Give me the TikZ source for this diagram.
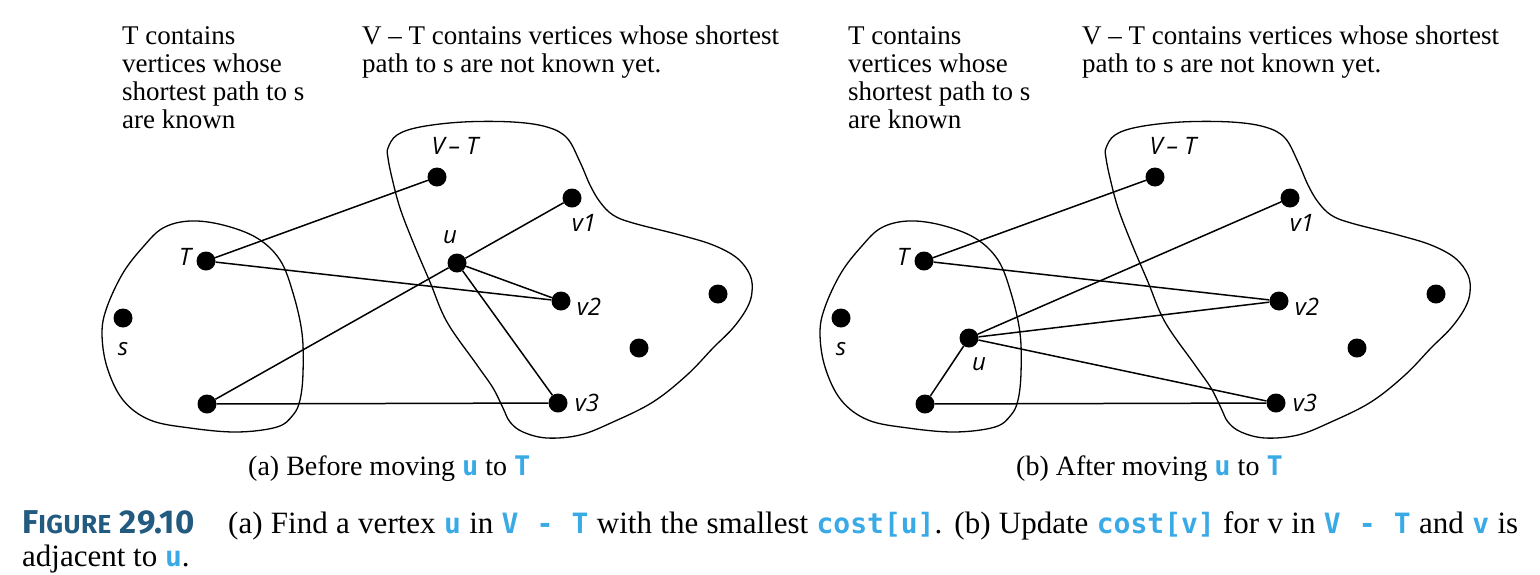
\documentclass[tikz,border=0pt]{standalone}
\usepackage{fontspec}
\setmainfont{Liberation Serif}
\newfontfamily\labfont{Open Sans}
\newfontfamily\codefont{DejaVu Sans Mono}
\newfontfamily\figfont{Fira Sans}
\definecolor{codeblue}{HTML}{3AAAE6}
\definecolor{figblue}{HTML}{235A80}
\newcommand{\cdc}[1]{{\codefont\bfseries\fontsize{28}{28}\selectfont\color{codeblue}#1}}
\newcommand{\cds}[1]{{\codefont\bfseries\fontsize{27}{27}\selectfont\color{codeblue}#1}}
\newcommand{\blobT}{plot[smooth cycle, tension=0.6] coordinates {
 (190,221) (223,225) (257,238) (280,260) (293,293) (302,333) (303,373) (300,400)
 (293,415) (277,427) (237,432) (190,428) (150,420) (123,400) (107,367) (102,333)
 (107,307) (123,273) (143,247) (163,228)}}
\newcommand{\blobV}{plot[smooth cycle, tension=0.6] coordinates {
 (388,148) (397,135) (420,127) (463,122) (513,122) (547,127) (567,138) (580,162)
 (590,185) (600,202) (613,215) (633,223) (680,235) (713,245) (737,258) (750,275)
 (752,292) (747,308) (733,328) (713,348) (687,375) (653,402) (613,422) (580,435)
 (547,438) (523,432) (510,422) (503,408) (493,388) (477,365) (447,322) (430,282)
 (413,242) (400,208) (392,178) (388,158)}}
\begin{document}
\begin{tikzpicture}[x=1pt,y=-1pt,
  txt/.style={font=\rmfamily\upshape\mdseries\fontsize{27}{28}\selectfont, anchor=base west, inner sep=0},
  subtxt/.style={font=\rmfamily\upshape\mdseries\fontsize{28}{28}\selectfont, anchor=base west, inner sep=0},
  captxt/.style={font=\rmfamily\upshape\mdseries\fontsize{31}{32}\selectfont, anchor=base west, inner sep=0},
  lbl/.style={font=\labfont\itshape\fontsize{24}{24}\selectfont, inner sep=0},
  dot/.style={circle, fill=black, minimum size=19pt, inner sep=0},
  edge/.style={line width=1.5pt},
  blob/.style={line width=1.3pt}]
\useasboundingbox (0,0) rectangle (1540,574);

% ---------- panel (a) ----------
\draw[blob] \blobT;
\draw[blob] \blobV;

\node[dot] (aT)  at (206,261) {};
\node[dot] (as)  at (123,318) {};
\node[dot] (ab)  at (207,404) {};
\node[dot] (avt) at (437,177) {};
\node[dot] (av1) at (572,198) {};
\node[dot] (au)  at (457,263) {};
\node[dot] (av2) at (561,301) {};
\node[dot] (ar1) at (718,294) {};
\node[dot] (ar2) at (639,348) {};
\node[dot] (av3) at (558,403) {};

\node[lbl] (laT)  at (185,257) {T};
\node[lbl] (las)  at (123,349) {s};
\node[lbl] (lavt) at (455,146) {V\,– T};
\node[lbl] (lau)  at (450,237) {u};
\node[lbl] (lav1) at (584,223) {v1};
\node[lbl] (lav2) at (589,307) {v2};
\node[lbl] (lav3) at (587,403) {v3};

\draw[edge] (aT) -- (avt);
\draw[edge] (aT) -- (av2);
\draw[edge] (au) -- (av1);
\draw[edge] (au) -- (av2);
\draw[edge] (au) -- (av3);
\draw[edge] (ab) -- (au);
\draw[edge] (ab) -- (av3);

\node[txt] (ta1) at (122,44)  {T contains};
\node[txt] (ta2) at (122,72)  {vertices whose};
\node[txt] (ta3) at (122,100) {shortest path to s};
\node[txt] (ta4) at (122,128) {are known};
\node[txt] (tb1) at (362,44)  {V – T contains vertices whose shortest};
\node[txt] (tb2) at (362,72)  {path to s are not known yet.};
\node[subtxt] (suba) at (248,475) {(a) Before moving \cds{u} to \cds{T}};

% ---------- panel (b) ----------
\begin{scope}[xshift=718pt]
\draw[blob] \blobT;
\draw[blob] \blobV;
\end{scope}

\node[dot] (bT)  at (924,261) {};
\node[dot] (bs)  at (841,318) {};
\node[dot] (bb)  at (925,404) {};
\node[dot] (bvt) at (1155,177) {};
\node[dot] (bv1) at (1290,198) {};
\node[dot] (bu)  at (969,338) {};
\node[dot] (bv2) at (1279,301) {};
\node[dot] (br1) at (1436,294) {};
\node[dot] (br2) at (1357,348) {};
\node[dot] (bv3) at (1276,403) {};

\node[lbl] (lbT)  at (903,257) {T};
\node[lbl] (lbs)  at (841,349) {s};
\node[lbl] (lbvt) at (1173,146) {V\,– T};
\node[lbl] (lbu)  at (979,364) {u};
\node[lbl] (lbv1) at (1302,223) {v1};
\node[lbl] (lbv2) at (1307,307) {v2};
\node[lbl] (lbv3) at (1305,403) {v3};

\draw[edge] (bT) -- (bvt);
\draw[edge] (bT) -- (bv2);
\draw[edge] (bu) -- (bv1);
\draw[edge] (bu) -- (bv2);
\draw[edge] (bu) -- (bv3);
\draw[edge] (bu) -- (bb);
\draw[edge] (bb) -- (bv3);

\node[txt] (tc1) at (848,44)  {T contains};
\node[txt] (tc2) at (848,72)  {vertices whose};
\node[txt] (tc3) at (848,100) {shortest path to s};
\node[txt] (tc4) at (848,128) {are known};
\node[txt] (td1) at (1082,44)  {V – T contains vertices whose shortest};
\node[txt] (td2) at (1082,72)  {path to s are not known yet.};
\node[subtxt] (subb) at (1016,475) {(b) After moving \cds{u} to \cds{T}};

% ---------- caption ----------
\node[anchor=base west, inner sep=0, font=\figfont\bfseries\fontsize{33}{33}\selectfont, text=figblue] (fig) at (22,533)
  {\addfontfeature{LetterSpace=2}F{\fontsize{26}{26}\selectfont IGURE} 29.10};
\node[captxt] (cap1) at (228,533) {\makebox[1290pt][s]{(a) Find a vertex \cdc{u} in \cdc{V - T} with the smallest \cdc{cost[u]}. (b) Update \cdc{cost[v]} for v in \cdc{V - T} and \cdc{v} is}};
\node[captxt] (cap2) at (22,566) {adjacent to \cdc{u}.};
\end{tikzpicture}
\end{document}
